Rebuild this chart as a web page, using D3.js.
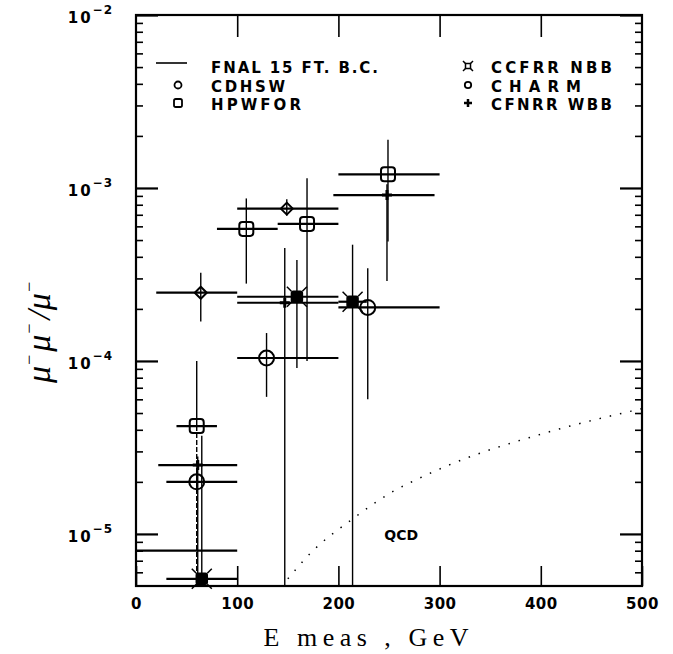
<!DOCTYPE html>
<html>
<head>
<meta charset="utf-8">
<script src="https://cdn.jsdelivr.net/npm/d3@7"></script>
<style>
  body { margin: 0; background: #fff; }
</style>
</head>
<body>
<div id="vis"></div>
<script>
const WIDTH = 673;
const HEIGHT = 654;
const margins = [136, 31, 15, 68]; // izquierda, derecha, arriba, abajo

// filas: [E, E min, E max, razon, razon min, razon max]
const fnal = [[50, 0, 100, 8.0e-6, null, null]];
const cdhsw = [
  [60, 30, 100, 2.0e-5, 1.75e-5, 2.3e-5],
  [129, 100, 200, 1.04e-4, 6.2e-5, 1.45e-4],
  [229, 200, 300, 2.04e-4, 6.0e-5, 3.44e-4]
];
const hpwfor = [
  [60, 40, 80, 4.2e-5, 5e-6, 1.0e-4],
  [109, 80, 140, 5.8e-4, 2.8e-4, 8.7e-4],
  [169, 140, 200, 6.2e-4, 1.0e-4, 1.14e-3],
  [249, 200, 300, 1.2e-3, 4.9e-4, 1.9e-3]
];
const ccfrrNbb = [
  [65, 30, 100, 5.5e-6, 5e-6, 3.7e-5],
  [159, 100, 200, 2.35e-4, 9.1e-5, 3.84e-4],
  [214, 200, 228, 2.2e-4, 5e-6, 4.7e-4]
];
const charm = [
  [64, 20, 100, 2.48e-4, 1.69e-4, 3.24e-4],
  [149, 100, 200, 7.6e-4, 6.9e-4, 8.6e-4]
];
const cfnrrWbb = [
  [61, 22, 100, 2.5e-5, 5e-6, 2.8e-5],
  [147, 100, 200, 2.17e-4, 5e-6, 4.5e-4],
  [248, 195, 295, 9.1e-4, 2.9e-4, 1.05e-3]
];

// curva QCD (punteada)
const qcdE = [150, 173, 214, 254, 274, 312, 402, 500];
const qcdR = [5.5e-6, 7.8e-6, 1.22e-5, 1.76e-5, 2.02e-5, 2.54e-5, 3.8e-5, 5.3e-5];

const xTicks = [0, 100, 200, 300, 400, 500];
const yDecades = [1e-5, 1e-4, 1e-3, 1e-2];
const yExpLabels = ["\u22125", "\u22124", "\u22123", "\u22122"];
const legendLeft = ["FNAL 15 FT. B.C.", "CDHSW", "HPWFOR"];
const legendRight = ["CCFRR NBB", "CHARM", "CFNRR WBB"];

const SVG = d3.select("#vis").append("svg")
  .attr("width", WIDTH).attr("height", HEIGHT)
  .style("background", "#fff");

const x = d3.scaleLinear().domain([0, 500]).range([margins[0], WIDTH - margins[1]]);
const y = d3.scaleLog().domain([5e-6, 1e-2]).range([HEIGHT - margins[3], margins[2]]);

const x0 = x.range()[0], x1 = x.range()[1];
const yTop = y.range()[1], yBot = y.range()[0];
const yMin = y.domain()[0];

// ticks menores 2..9 de cada decada
let minor = [];
[1e-6, 1e-5, 1e-4, 1e-3].forEach(d => {
  for (let k = 2; k <= 9; k++) {
    const v = d * k;
    if (v > yMin && v < 1e-2) minor.push(v);
  }
});

function axisStyle(g, w) {
  g.select(".domain").remove();
  g.selectAll(".tick line").attr("stroke", "#000").attr("stroke-width", w);
}

// ejes: ticks hacia adentro
SVG.append("g").attr("transform", `translate(${x0},0)`)
  .call(d3.axisLeft(y).tickValues(yDecades).tickSize(-22).tickFormat(""))
  .call(g => axisStyle(g, 2.2));
SVG.append("g").attr("transform", `translate(${x0},0)`)
  .call(d3.axisLeft(y).tickValues(minor).tickSize(-7).tickFormat(""))
  .call(g => axisStyle(g, 1.6));
SVG.append("g").attr("transform", `translate(${x1},0)`)
  .call(d3.axisRight(y).tickValues(yDecades).tickSize(-22).tickFormat(""))
  .call(g => axisStyle(g, 2.2));
SVG.append("g").attr("transform", `translate(${x1},0)`)
  .call(d3.axisRight(y).tickValues(minor).tickSize(-7).tickFormat(""))
  .call(g => axisStyle(g, 1.6));
SVG.append("g").attr("transform", `translate(0,${yTop})`)
  .call(d3.axisTop(x).tickValues([100, 200, 300, 400]).tickSize(-22).tickFormat(""))
  .call(g => axisStyle(g, 1.6));

const xAxis = SVG.append("g").attr("transform", `translate(0,${yBot})`)
  .call(d3.axisBottom(x).tickValues(xTicks).tickSize(-20).tickPadding(12).tickFormat(d3.format("d")))
  .call(g => axisStyle(g, 1.6));
xAxis.selectAll("text")
  .attr("fill", "#000")
  .style("font-family", "DejaVu Sans, sans-serif")
  .style("font-weight", "bold")
  .style("font-size", "15px")
  .style("letter-spacing", "0.5px");

// etiquetas eje y: 10^-n
const yLab = SVG.append("g");
yDecades.forEach((v, i) => {
  const t = yLab.append("text")
    .attr("x", x0 - 23).attr("y", y(v) + 8)
    .attr("text-anchor", "end")
    .style("font-family", "DejaVu Sans, sans-serif")
    .style("font-weight", "bold")
    .attr("fill", "#000");
  t.append("tspan").style("font-size", "15px").style("letter-spacing", "2px").text("10");
  t.append("tspan").attr("dy", -9).style("font-size", "12px").style("letter-spacing", "1px").text(yExpLabels[i]);
});

// marco
SVG.append("rect")
  .attr("x", x0).attr("y", yTop)
  .attr("width", x1 - x0).attr("height", yBot - yTop)
  .attr("fill", "none").attr("stroke", "#000").attr("stroke-width", 2.2);

// curva QCD
const qcd = qcdE.map((e, i) => [e, qcdR[i]]);
SVG.append("path")
  .datum(qcd)
  .attr("d", d3.line().x(d => x(d[0])).y(d => y(d[1])).curve(d3.curveMonotoneX))
  .attr("fill", "none").attr("stroke", "#000")
  .attr("stroke-width", 1.5).attr("stroke-dasharray", "1.5,9");
SVG.append("text")
  .attr("x", x(262)).attr("y", y(1.0e-5) + 6)
  .attr("text-anchor", "middle")
  .style("font-family", "DejaVu Sans, sans-serif")
  .style("font-weight", "bold")
  .style("font-size", "14px")
  .text("QCD");

// barras de error (la inferior va punteada si llega al borde)
function errorBars(data, lowDash) {
  const g = SVG.append("g").attr("stroke", "#000").attr("fill", "none");
  g.selectAll("line.h").data(data).join("line").attr("class", "h")
    .attr("x1", d => x(d[1])).attr("x2", d => x(d[2]))
    .attr("y1", d => y(d[3])).attr("y2", d => y(d[3]))
    .attr("stroke-width", 2.2);
  const conErr = data.filter(d => d[4] !== null);
  g.selectAll("line.up").data(conErr).join("line").attr("class", "up")
    .attr("x1", d => x(d[0])).attr("x2", d => x(d[0]))
    .attr("y1", d => y(d[3])).attr("y2", d => y(d[5]))
    .attr("stroke-width", 1.4);
  g.selectAll("line.dn").data(conErr).join("line").attr("class", "dn")
    .attr("x1", d => x(d[0])).attr("x2", d => x(d[0]))
    .attr("y1", d => y(d[3])).attr("y2", d => y(d[4]))
    .attr("stroke-width", 1.4)
    .attr("stroke-dasharray", d => (lowDash && d[4] <= yMin) ? "5,2" : null);
}
errorBars(fnal, false);
errorBars(cdhsw, false);
errorBars(hpwfor, true);
errorBars(ccfrrNbb, false);
errorBars(charm, false);
errorBars(cfnrrWbb, false);

// marcadores
function circle(g, cx, cy, r, w) {
  g.append("circle").attr("cx", cx).attr("cy", cy).attr("r", r)
    .attr("fill", "none").attr("stroke", "#000").attr("stroke-width", w);
}
function square(g, cx, cy, s, w) {
  g.append("rect").attr("x", cx - s / 2).attr("y", cy - s / 2)
    .attr("width", s).attr("height", s).attr("rx", s * 0.22)
    .attr("fill", "none").attr("stroke", "#000").attr("stroke-width", w);
}
function diamond(g, cx, cy, r, w) {
  g.append("path")
    .attr("d", `M${cx},${cy - r}L${cx + r},${cy}L${cx},${cy + r}L${cx - r},${cy}Z`)
    .attr("fill", "none").attr("stroke", "#000").attr("stroke-width", w)
    .attr("stroke-linejoin", "round");
}
function star(g, cx, cy, s, spike, filled) {
  g.append("rect").attr("x", cx - s / 2).attr("y", cy - s / 2)
    .attr("width", s).attr("height", s).attr("rx", filled ? 2 : 0)
    .attr("fill", filled ? "#000" : "none").attr("stroke", "#000").attr("stroke-width", 1.5);
  [[1, 1], [1, -1], [-1, 1], [-1, -1]].forEach(([a, b]) => {
    g.append("line")
      .attr("x1", cx + a * s / 2).attr("y1", cy + b * s / 2)
      .attr("x2", cx + a * spike).attr("y2", cy + b * spike)
      .attr("stroke", "#000").attr("stroke-width", 1.5);
  });
}
function plus(g, cx, cy, r, w) {
  g.append("path")
    .attr("d", `M${cx - r},${cy}H${cx + r}M${cx},${cy - r}V${cy + r}`)
    .attr("stroke", "#000").attr("stroke-width", w);
}

const marks = SVG.append("g");
cdhsw.forEach(d => circle(marks, x(d[0]), y(d[3]), 7.5, 2));
hpwfor.forEach(d => square(marks, x(d[0]), y(d[3]), 14, 2));
charm.forEach(d => diamond(marks, x(d[0]), y(d[3]), 6, 2));
ccfrrNbb.forEach(d => star(marks, x(d[0]), y(d[3]), 11, 10, true));
cfnrrWbb.forEach(d => plus(marks, x(d[0]), y(d[3]), 5, 3));

// leyenda
const leg = SVG.append("g")
  .style("font-family", "DejaVu Sans, sans-serif")
  .style("font-weight", "bold")
  .style("font-size", "15px")
  .attr("fill", "#000");
const rowY = [67, 86, 104];
const leftW = [167, 74, 90];
const rightW = [121, 90, 121];
leg.append("line").attr("x1", 156).attr("x2", 187)
  .attr("y1", rowY[0] - 4).attr("y2", rowY[0] - 4)
  .attr("stroke", "#000").attr("stroke-width", 1.6);
circle(leg, 178, rowY[1] - 1, 3.5, 1.8);
square(leg, 178, rowY[2] - 1, 8, 1.8);
star(leg, 468, rowY[0] - 1, 5, 5, false);
circle(leg, 468, rowY[1] - 1, 3.2, 1.8);
plus(leg, 468, rowY[2] - 1, 4, 2.5);
legendLeft.forEach((t, i) => {
  leg.append("text").attr("x", 211).attr("y", rowY[i] + 5.5)
    .attr("textLength", leftW[i]).attr("lengthAdjust", "spacing").text(t);
});
legendRight.forEach((t, i) => {
  leg.append("text").attr("x", 491).attr("y", rowY[i] + 5.5)
    .attr("textLength", rightW[i]).attr("lengthAdjust", "spacing").text(t);
});

// titulos de ejes
SVG.append("text")
  .attr("x", 366).attr("y", 646)
  .attr("text-anchor", "middle")
  .attr("textLength", 205).attr("lengthAdjust", "spacing")
  .style("font-family", "Liberation Serif, serif")
  .style("font-size", "26px")
  .text("E meas , GeV");

const yt = SVG.append("text")
  .attr("transform", "translate(50,332) rotate(-90)")
  .attr("text-anchor", "middle")
  .style("font-family", "Liberation Serif, serif")
  .style("font-style", "italic")
  .style("font-size", "34px");
yt.append("tspan").text("\u03bc");
yt.append("tspan").attr("dy", -15).style("font-size", "18px").text("\u2212");
yt.append("tspan").attr("dy", 15).attr("dx", 2).text("\u03bc");
yt.append("tspan").attr("dy", -15).style("font-size", "18px").text("\u2212");
yt.append("tspan").attr("dy", 15).attr("dx", 3).text("/\u03bc");
yt.append("tspan").attr("dy", -15).style("font-size", "18px").text("\u2212");
</script>
</body>
</html>
